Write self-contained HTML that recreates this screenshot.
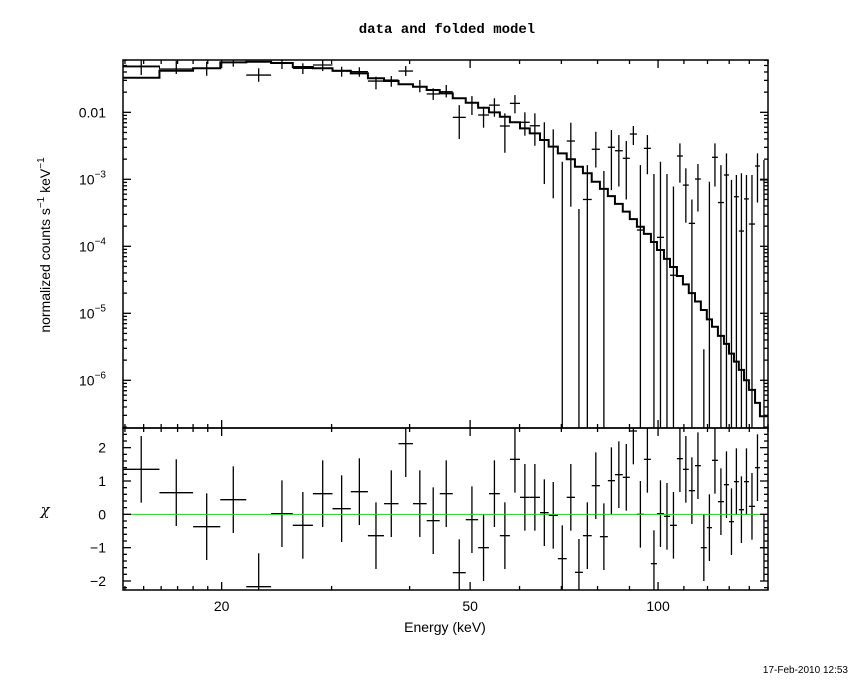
<!DOCTYPE html>
<html><head><meta charset="utf-8"><style>
body{margin:0;background:#fff;}
svg{display:block;font-family:"Liberation Sans",sans-serif;}
</style></head><body>
<svg id="chart" width="850" height="680" viewBox="0 0 850 680" xmlns="http://www.w3.org/2000/svg">
<defs>
<clipPath id="ctop"><rect x="123" y="60" width="645" height="368"/></clipPath>
<clipPath id="cbot"><rect x="123" y="428" width="645" height="162"/></clipPath>
</defs>
<rect width="850" height="680" fill="#fff"/>
<text x="447" y="33" text-anchor="middle" font-size="14" font-family="Liberation Mono, monospace" font-weight="bold">data and folded model</text>
<g id="topg"></g>
<g id="botg"></g>
<g id="axg"></g>
<text transform="translate(50,245) rotate(-90)" text-anchor="middle" font-size="14">normalized counts s<tspan dy="-6" font-size="10">−1</tspan><tspan dy="6"> keV</tspan><tspan dy="-6" font-size="10">−1</tspan></text>
<text x="45" y="515" text-anchor="middle" font-size="15" font-family="DejaVu Serif, serif" font-style="italic">χ</text>
<text x="445" y="632" text-anchor="middle" font-size="14">Energy (keV)</text>
<text x="848" y="673" text-anchor="end" font-size="10">17-Feb-2010 12:53</text>
</svg>
<script>
const binEdges=[13.9,15.9,18.0,19.9,21.9,24.0,26.0,28.0,30.1,32.2,34.3,36.4,38.4,40.5,42.6,44.7,46.9,49.2,51.5,53.6,55.8,57.9,60.1,62.3,64.7,66.8,69.1,71.4,73.6,75.8,78.3,80.7,83.1,85.3,87.8,90.1,92.5,94.9,97.4,99.6,102.2,104.5,107.2,109.6,112.0,114.6,117.1,119.7,122.0,124.7,127.5,129.9,132.3,134.7,137.3,139.8,143.0,145.6,150.0];
const dataVal=[.048,.0443,.0454,.0557,.036,.0539,.0454,.0508,.0413,.0404,.0293,.0303,.0413,.0241,.0188,.0203,.00841,.0139,.00912,.0128,.00625,.0136,.0071,.0063,.00386,.00307,1e-8,.00373,1e-8,.0005,.00281,1e-8,.00301,.00267,.00206,.00474,.000175,.0029,1e-8,.000136,6.5e-5,3.7e-5,.00223,.00082,.00022,.00101,1e-8,1e-8,.00213,.00045,.00116,1e-8,.00055,.000169,.00051,.000215,.00158,.00098];
const dataHi=[.0604,.0585,.0569,.0604,.0454,.0604,.0539,.0604,.048,.047,.034,.0348,.0491,.0303,.0228,.0256,.0128,.0175,.0121,.0162,.00966,.0181,.01,.00966,.0071,.00557,.00183,.007,.00036,.00163,.00513,.00133,.00544,.00458,.00373,.00625,.00163,.00458,.0012,.00183,.0012,.00078,.00344,.00146,.0005,.00169,2.9e-6,.00092,.00344,.00163,.00244,.00098,.00116,.00123,.00116,.00116,.00244,.00194];
const dataLo=[.036,.0373,.0352,.048,.0286,.0443,.0373,.0413,.034,.034,.022,.0241,.0348,.0199,.0153,.0167,.00399,.00912,.00589,.00859,.00249,.00966,.00448,.00317,.00085,.00052,1e-8,.00039,1e-8,1e-8,.0015,1e-8,.00069,.00078,.0005,.00325,1e-8,.00119,1e-8,1e-8,1e-8,1e-8,.00089,.000225,1e-8,.00033,1e-8,1e-8,.00078,1e-8,1e-8,1e-8,1e-8,1e-8,1e-8,1e-8,.00045,1e-8];
const modelThin=[.0491,.0443,.0454,.0557,.0569,.0545,.0474,.0454,.0418,.0382,.0322,.0293,.0262,.0241,.0215,.0192,.0162,.0139,.0117,.01,.00859,.0071,.00577,.00486,.00386,.00307,.00244,.00199,.00154,.00123,.00092,.00072,.00056,.00043,.00033,.000255,.000196,.000153,.000116,8.8e-5,6.5e-5,4.9e-5,3.6e-5,2.7e-5,2.0e-5,1.5e-5,1.12e-5,8.1e-6,6.3e-6,4.6e-6,3.5e-6,2.5e-6,1.9e-6,1.43e-6,1.0e-6,7.2e-7,4.6e-7,2.9e-7];
const modelThick=[.0328,.0418,.0454,.0557,.0569,.0545,.0474,.0454,.0418,.0382,.0322,.0293,.0262,.0241,.0215,.0192,.0162,.0139,.0117,.01,.00859,.0071,.00577,.00486,.00386,.00307,.00244,.00199,.00154,.00123,.00092,.00072,.00056,.00043,.00033,.000255,.000196,.000153,.000116,8.8e-5,6.5e-5,4.9e-5,3.6e-5,2.7e-5,2.0e-5,1.5e-5,1.12e-5,8.1e-6,6.3e-6,4.6e-6,3.5e-6,2.5e-6,1.9e-6,1.43e-6,1.0e-6,7.2e-7,4.6e-7,2.9e-7];
const chiVal=[1.35,0.65,-0.37,0.44,-2.17,0.02,-0.33,0.62,0.17,0.68,-0.64,0.32,2.12,0.32,-0.19,0.62,-1.75,-0.16,-1.0,0.62,-0.64,1.65,0.51,0.51,0.05,-0.03,-1.33,0.51,-1.74,-0.64,0.86,-0.67,1.01,1.19,1.11,2.5,0.0,1.65,-1.48,0.02,-0.06,-0.33,1.67,1.35,0.71,1.46,-1.0,-0.4,1.62,0.38,0.89,-0.22,0.98,0.14,0.98,0.24,1.4,-1.0];
const xTickMajor=[20,50,100];
const xTickLabels=["20","50","100"];
const yTickMajor=[0.01,1e-3,1e-4,1e-5,1e-6];
const chiTicks=[-2,-1,0,1,2];

const NS="http://www.w3.org/2000/svg";
const L=123,R=768,T=60,B=428,BT=428,BB=590;
const XMIN=13.9,XMAX=150.0,YMIN=1.94e-7,YMAX=0.0604,CMIN=-2.27,CMAX=2.59;
const xs=e=>L+(Math.log10(e)-Math.log10(XMIN))/(Math.log10(XMAX)-Math.log10(XMIN))*(R-L);
const ys=v=>T+(Math.log10(YMAX)-Math.log10(v))/(Math.log10(YMAX)-Math.log10(YMIN))*(B-T);
const cs=c=>BT+(CMAX-c)/(CMAX-CMIN)*(BB-BT);
function mk(parent,tag,attrs){const e=document.createElementNS(NS,tag);for(const k in attrs)e.setAttribute(k,attrs[k]);parent.appendChild(e);return e;}
const topg=document.getElementById('topg'),botg=document.getElementById('botg'),axg=document.getElementById('axg');
const tc=mk(topg,'g',{'clip-path':'url(#ctop)'});
const bc=mk(botg,'g',{'clip-path':'url(#cbot)'});

function stepPath(vals){let d='';for(let i=0;i<vals.length;i++){const x0=xs(binEdges[i]),x1=xs(binEdges[i+1]),y=ys(vals[i]);d+=(i?'L':'M')+x0+','+y+'L'+x1+','+y;}return d;}
const thick=mk(tc,'path',{d:stepPath(modelThick),fill:'none',stroke:'#000','stroke-width':2});


const thin=mk(tc,'path',{d:stepPath(modelThin),fill:'none',stroke:'#000','stroke-width':1});



for(let i=0;i<dataVal.length;i++){
  const x0=xs(binEdges[i]),x1=xs(binEdges[i+1]),xm=(x0+x1)/2;
  const g=mk(tc,'g',{stroke:'#000','stroke-width':1.3});
  
  
  mk(g,'line',{x1:x0,x2:x1,y1:ys(dataVal[i]),y2:ys(dataVal[i])});
  mk(g,'line',{x1:xm,x2:xm,y1:ys(dataHi[i]),y2:ys(dataLo[i])});
  const r=mk(bc,'g',{stroke:'#000','stroke-width':1.3});
  
  
  mk(r,'line',{x1:x0,x2:x1,y1:cs(chiVal[i]),y2:cs(chiVal[i])});
  mk(r,'line',{x1:xm,x2:xm,y1:cs(chiVal[i]+1),y2:cs(chiVal[i]-1)});
}
const zl=mk(bc,'line',{x1:L,x2:R,y1:cs(0),y2:cs(0),stroke:'#20d020','stroke-width':1});



mk(axg,'rect',{x:L,y:T,width:R-L,height:B-T,fill:'none',stroke:'#000','stroke-width':1.5});
mk(axg,'rect',{x:L,y:BT,width:R-L,height:BB-BT,fill:'none',stroke:'#000','stroke-width':1.5});
function ln(x1,y1,x2,y2,w){mk(axg,'line',{x1,y1,x2,y2,stroke:'#000','stroke-width':w||1.3});}
const xMinor=[14,15,16,17,18,19,30,40,60,70,80,90,110,120,130,140,150];
for(const [y0,y1] of [[T,B],[BT,BB]]){
  for(const e of xTickMajor){const x=xs(e);ln(x,y0,x,y0+8);ln(x,y1,x,y1-8);}
  for(const e of xMinor){const x=xs(e);ln(x,y0,x,y0+4);ln(x,y1,x,y1-4);}
}
xTickMajor.forEach((e,i)=>{const t=mk(axg,'text',{x:xs(e),y:611,'text-anchor':'middle','font-size':14});t.textContent=xTickLabels[i];

});
for(let p=-7;p<=-1;p++){for(let m=1;m<10;m++){const v=m*Math.pow(10,p);if(v<YMIN||v>YMAX)continue;const y=ys(v);const len=m===1?8:4;ln(L,y,L+len,y);ln(R,y,R-len,y);}}
yTickMajor.forEach(v=>{const y=ys(v);const t=mk(axg,'text',{x:106,y:y+5,'text-anchor':'end','font-size':14});


if(v===0.01){t.textContent='0.01';}else{const ex=Math.round(Math.log10(v));t.textContent='10';const s=mk(t,'tspan',{dy:-7,'font-size':10});s.textContent=String(ex).replace('-','−');}});
for(let c=-2.2;c<=2.6;c+=0.2){const y=cs(c);if(y<BT||y>BB)continue;const maj=Math.abs(c-Math.round(c))<0.01;const len=maj?8:4;ln(L,y,L+len,y);ln(R,y,R-len,y);}
chiTicks.forEach(c=>{const t=mk(axg,'text',{x:106,y:cs(c)+5,'text-anchor':'end','font-size':14});t.textContent=String(c).replace('-','−');

});
</script>
</body></html>
